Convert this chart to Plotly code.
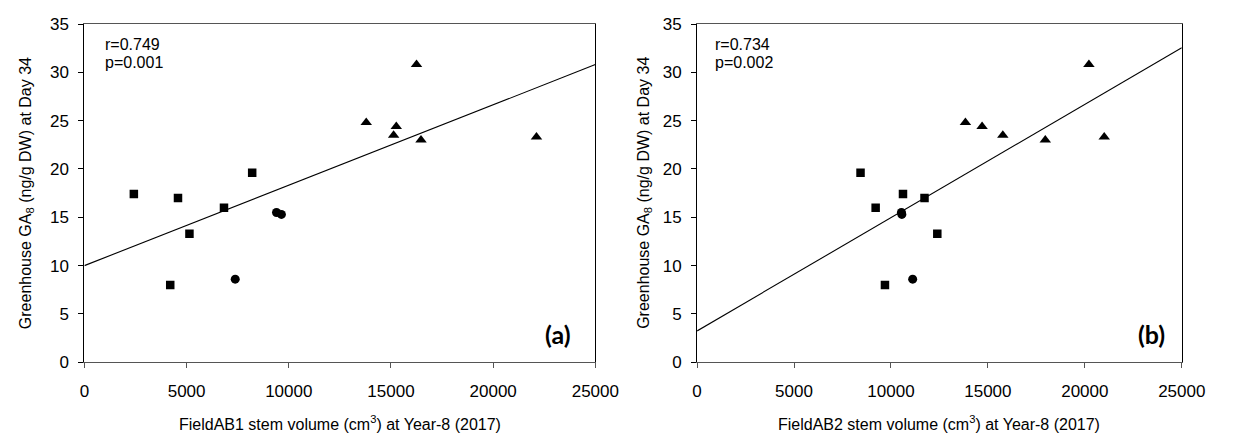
import numpy as np
import plotly.graph_objects as go

# GA8 content (ng/g DW) measured in the greenhouse at day 34, by group
ga8_square = [17.4, 17.0, 16.0, 19.6, 13.3, 8.0]
ga8_circle = [15.5, 15.3, 8.6]
ga8_triangle = [24.8, 30.8, 24.4, 23.5, 23.0, 23.3]

# FieldAB1 stem volume (cm3) at year 8, same families in the same order
ab1_square = [2420, 4580, 6830, 8210, 5140, 4200]
ab1_circle = [9400, 9640, 7380]
ab1_triangle = [13790, 16250, 15260, 15130, 16470, 22120]

# FieldAB2 stem volume (cm3) at year 8
ab2_square = [10620, 11730, 9210, 8430, 12390, 9690]
ab2_circle = [10540, 10560, 11120]
ab2_triangle = [13840, 20210, 14700, 15770, 17960, 21000]

stats = [("r=0.749", "p=0.001"), ("r=0.734", "p=0.002")]
panel_tags = ["(a)", "(b)"]
x_titles = [
    "FieldAB1 stem volume (cm<sup>3</sup>) at Year-8 (2017)",
    "FieldAB2 stem volume (cm<sup>3</sup>) at Year-8 (2017)",
]
y_title = "Greenhouse GA<sub>8</sub> (ng/g DW) at Day 34"

W, H = 1238, 446
FONT = "Liberation Sans, Arial, sans-serif"
x_px = [(81.3, 604.5), (708.7, 1205.0)]
x_domains = [(a / W, b / W) for a, b in x_px]
y_domain = (1 - 369 / H, 1 - 15.7 / H)

panels = [
    (ab1_square, ab1_circle, ab1_triangle),
    (ab2_square, ab2_circle, ab2_triangle),
]

fig = go.Figure()
marker_styles = [("square", 8.5), ("circle", 9), ("triangle-up", 10)]
ga8_groups = [ga8_square, ga8_circle, ga8_triangle]

for i, groups in enumerate(panels):
    xa = "x" if i == 0 else "x2"
    ya = "y" if i == 0 else "y2"
    # least-squares regression line over all points of the panel
    xs = np.concatenate([np.asarray(g, float) for g in groups])
    ys = np.concatenate([np.asarray(g, float) for g in ga8_groups])
    slope, intercept = np.polyfit(xs, ys, 1)
    line_x = np.array([0.0, 25000.0])
    fig.add_trace(go.Scatter(
        x=line_x, y=intercept + slope * line_x, mode="lines",
        line=dict(color="black", width=1.1), xaxis=xa, yaxis=ya,
        showlegend=False, hoverinfo="skip",
    ))
    for (sym, size), gx, gy in zip(marker_styles, groups, ga8_groups):
        fig.add_trace(go.Scatter(
            x=gx, y=gy, mode="markers",
            marker=dict(symbol=sym, size=size, color="black",
                        line=dict(width=0)),
            xaxis=xa, yaxis=ya, showlegend=False,
        ))

axis_common = dict(
    showgrid=False, zeroline=False, ticks="outside", ticklen=5,
    tickwidth=1, mirror=True, showline=True, linewidth=1.2,
    tickfont=dict(family=FONT, size=17, color="black"),
)

for i in range(2):
    sfx = "" if i == 0 else "2"
    fig.layout["xaxis" + sfx] = dict(
        axis_common, domain=x_domains[i], range=[0, 25000],
        tickvals=[0, 5000, 10000, 15000, 20000, 25000],
        tickformat="d", linecolor="#555555", tickcolor="#555555",
        ticklabelstandoff=8, anchor="y" + sfx, fixedrange=True,
    )
    fig.layout["yaxis" + sfx] = dict(
        axis_common, domain=y_domain, range=[0, 35], dtick=5,
        linecolor="black", tickcolor="black", ticklabelstandoff=6,
        anchor="x" + sfx, fixedrange=True,
    )

annotations = []
ytitle_x = [21.5, 654]
stat_offset = [19.4, 16.6]
tag_offset = [23, 15]
for i in range(2):
    x0, x1 = x_px[i]
    annotations.append(dict(
        x=(x0 + x1) / 2 / W, y=1 - 432 / H, xref="paper", yref="paper",
        text=x_titles[i], showarrow=False,
        font=dict(family=FONT, size=16, color="black"),
        xanchor="center", yanchor="middle",
    ))
    annotations.append(dict(
        x=ytitle_x[i] / W, y=(y_domain[0] + y_domain[1]) / 2,
        xref="paper", yref="paper", text=y_title, textangle=-90,
        showarrow=False, font=dict(family=FONT, size=16, color="black"),
        xanchor="center", yanchor="middle",
    ))
    for line_text, y_px in zip(stats[i], (37, 55.5)):
        annotations.append(dict(
            x=(x0 + stat_offset[i]) / W, y=1 - y_px / H,
            xref="paper", yref="paper", text=line_text, align="left",
            showarrow=False, font=dict(family=FONT, size=16, color="black"),
            xanchor="left", yanchor="middle",
        ))
    annotations.append(dict(
        x=(x1 - tag_offset[i]) / W, y=1 - 339 / H, xref="paper",
        yref="paper", text="<b>" + panel_tags[i] + "</b>", showarrow=False,
        font=dict(family="Lato, Open Sans, sans-serif", size=25,
                  color="black"),
        xanchor="right", yanchor="middle",
    ))

fig.update_layout(
    width=W, height=H, margin=dict(l=0, r=0, t=0, b=0),
    paper_bgcolor="white", plot_bgcolor="white",
    annotations=annotations, showlegend=False,
)

fig.write_html("out.html")
